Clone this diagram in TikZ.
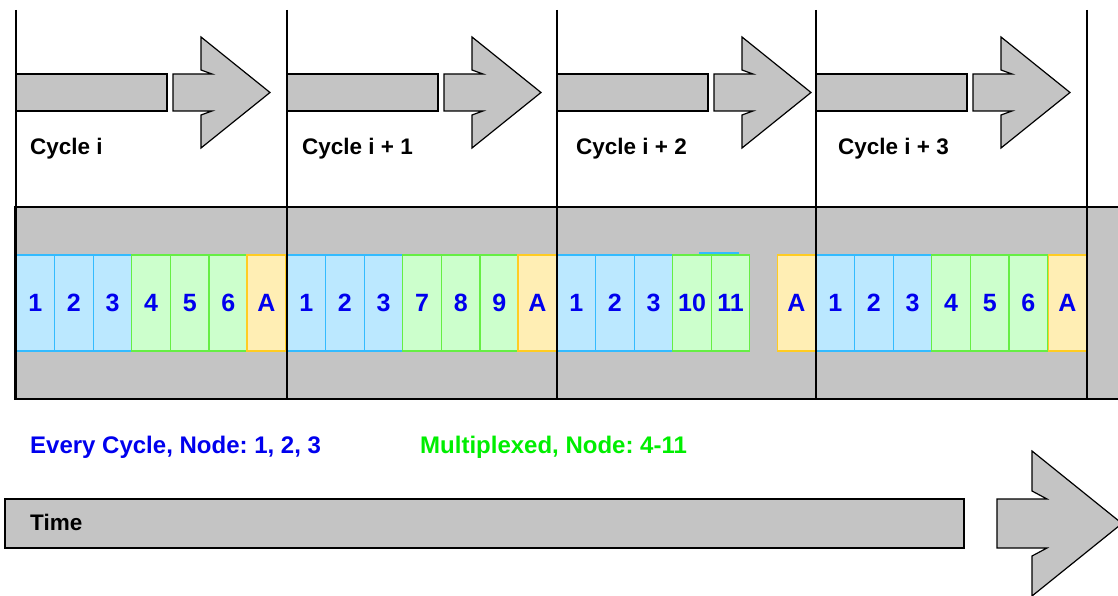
\documentclass[tikz,border=0pt]{standalone}
\usepackage{fontspec}
\setmainfont{Liberation Sans}
\definecolor{bandgray}{HTML}{C4C4C4}
\definecolor{fixedfill}{HTML}{BBE8FF}
\definecolor{fixedline}{HTML}{33BBFF}
\definecolor{muxfill}{HTML}{CCFFCC}
\definecolor{muxline}{HTML}{66EE44}
\definecolor{ackfill}{HTML}{FFEEB4}
\definecolor{ackline}{HTML}{FFCC22}
\definecolor{slottext}{HTML}{0000EE}
\definecolor{legendgreen}{HTML}{00EE00}
\frenchspacing

\begin{document}
\begin{tikzpicture}[x=1pt, y=-1pt,
  grayshape/.style={fill=bandgray, draw=black, line width=1.2pt},
  divider/.style={draw=black, line width=1.4pt},
  slot/.style={draw, line width=1.3pt, minimum width=38.6pt, minimum height=96pt,
    inner sep=0pt, text=slottext, font=\fontsize{25}{25}\selectfont\bfseries},
  fixedslot/.style={slot, fill=fixedfill, draw=fixedline},
  muxslot/.style={slot, fill=muxfill, draw=muxline},
  ackslot/.style={slot, fill=ackfill, draw=ackline},
  label/.style={anchor=base west, inner sep=0pt, font=\fontsize{22.5}{22.5}\selectfont\bfseries},
  legend/.style={label, font=\fontsize{24}{24}\selectfont\bfseries}]
  \clip (0,0) rectangle (1118,596);
  \fill[white] (0,0) rectangle (1118,596);

  \draw[grayshape] (15,207) rectangle (1130,399);

  \foreach \x/\c in {16/1, 287/2, 557/3, 816/4} {
    \draw[grayshape] (\x,74) rectangle (\x+151,111);
    \draw[grayshape] (\x+157,74) -- (\x+196,74) -- (\x+185,70) -- (\x+185,37)
      -- (\x+254,92.5) -- (\x+185,148) -- (\x+185,115) -- (\x+196,111)
      -- (\x+157,111) -- cycle;
    \foreach \lab [count=\s from 0] in {1,2,3}
      \node[fixedslot] (f\c-\lab) at (\x+19.3+38.6*\s, 303) {\lab};
  }
  \foreach \x/\c/\p/\q/\r in {16/1/4/5/6, 287/2/7/8/9, 816/4/4/5/6} {
    \node[muxslot] (m\c-\p) at (\x+135.1, 303) {\p};
    \node[muxslot] (m\c-\q) at (\x+173.7, 303) {\q};
    \node[muxslot] (m\c-\r) at (\x+212.3, 303) {\r};
  }
  \node[muxslot] (m3-10) at (692,303) {10};
  \node[muxslot] (m3-11) at (730.5,303) {11};
  \draw[fixedline, line width=1.3pt] (699,253) -- (739,253);

  \node[ackslot] (a1) at (266.3,303) {A};
  \node[ackslot] (a2) at (537.3,303) {A};
  \node[ackslot] (a3) at (796.5,303) {A};
  \node[ackslot] (a4) at (1067.5,303) {A};

  \foreach \x in {16, 287, 557, 816, 1087}
    \draw[divider] (\x,10) -- (\x,399);

  \node[label] (c1) at (30,155) {Cycle i};
  \node[label] (c2) at (302,155) {Cycle i + 1};
  \node[label] (c3) at (576,155) {Cycle i + 2};
  \node[label] (c4) at (838,155) {Cycle i + 3};

  \node[legend, text=slottext] (every) at (30,453) {Every Cycle, Node: 1, 2, 3};
  \node[legend, text=legendgreen] (mux) at (420,453) {Multiplexed, Node: 4-11};

  \draw[grayshape] (5,499) rectangle (964,548);
  \draw[grayshape] (997,499) -- (1047,499) -- (1032,491) -- (1032,451)
    -- (1122,523.5) -- (1032,596) -- (1032,556) -- (1047,548) -- (997,548) -- cycle;
  \node[label] (time) at (30,530) {Time};
\end{tikzpicture}
\end{document}
